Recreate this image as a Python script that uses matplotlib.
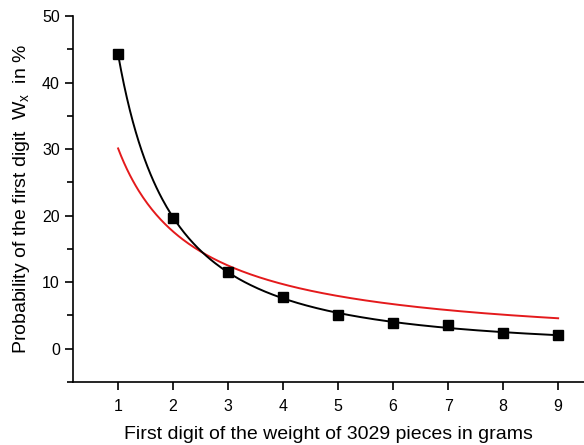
import matplotlib
matplotlib.use("Agg")
import matplotlib.pyplot as plt
import numpy as np
from matplotlib.ticker import MultipleLocator

plt.rcParams['font.family'] = ['Liberation Sans', 'DejaVu Sans']
plt.rcParams['font.size'] = 11

# measured first-digit frequencies (%)
digits = np.array([1, 2, 3, 4, 5, 6, 7, 8, 9])
measured = np.array([44.3, 19.6, 11.6, 7.7, 5.1, 3.9, 3.5, 2.4, 2.0])

# smooth fit through measured points (quadratic in log-log space)
coef = np.polyfit(np.log(digits), np.log(measured), 2)
xs = np.linspace(1, 9, 300)
fit = np.exp(np.polyval(coef, np.log(xs)))

# Benford's law
benford = 100 * np.log10(1 + 1 / xs)

fig = plt.figure(figsize=(5.84, 4.45), dpi=100)
ax = fig.add_axes([0.125, 0.1416, 0.875, 0.8224])

ax.plot(xs, benford, color='#e41a1c', lw=1.4)
ax.plot(xs, fit, color='black', lw=1.4)
ax.plot(digits, measured, 's', color='black', ms=6.5)

ax.set_xlim(0.18, 9.47)
ax.set_ylim(-5, 50)
ax.set_xticks(digits)
ax.yaxis.set_major_locator(MultipleLocator(10))
ax.yaxis.set_minor_locator(MultipleLocator(5))
ax.set_yticks([0, 10, 20, 30, 40, 50])

for s in ['top', 'right']:
    ax.spines[s].set_visible(False)
for s in ['left', 'bottom']:
    ax.spines[s].set_linewidth(1.2)
ax.tick_params(which='major', direction='out', length=6, width=1.2, labelsize=11.5)
ax.tick_params(axis='x', which='major', pad=6)
ax.tick_params(which='minor', direction='out', length=4, width=1.2)

ax.set_xlabel('First digit of the weight of 3029 pieces in grams', fontsize=14, labelpad=9)
ax.set_ylabel('Probability of the first digit  W$_\\mathregular{x}$  in %', fontsize=14, labelpad=7)

fig.savefig('out.png', dpi=100)
